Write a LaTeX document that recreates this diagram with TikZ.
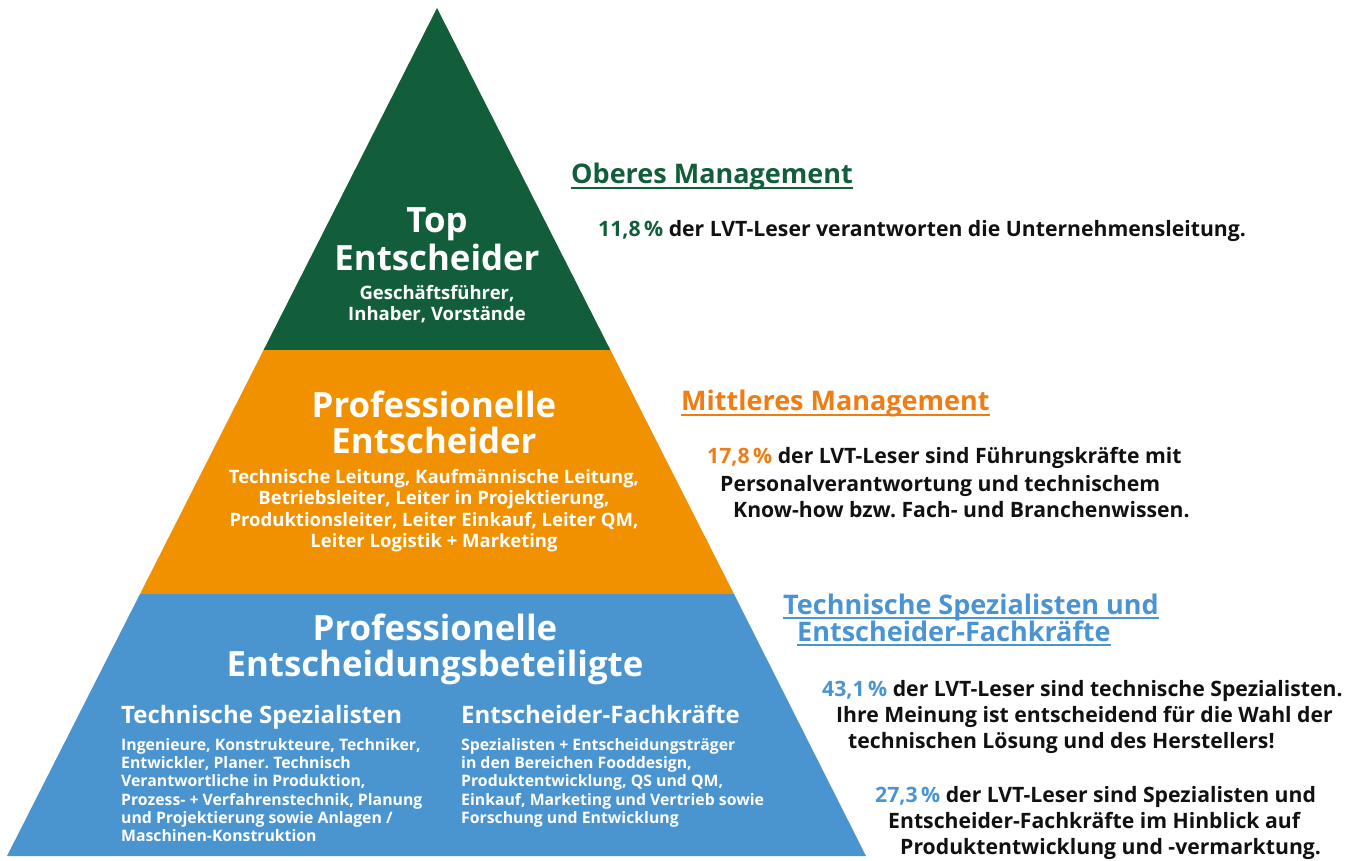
\documentclass[tikz,border=0pt]{standalone}
\usepackage{fontspec}
\setmainfont{Open Sans}
\frenchspacing
\definecolor{pgreen}{RGB}{19,94,58}
\definecolor{porange}{RGB}{242,145,0}
\definecolor{pblue}{RGB}{74,148,208}
\definecolor{torange}{RGB}{239,125,20}
\definecolor{tblue}{RGB}{74,148,212}
\definecolor{tblack}{RGB}{17,17,17}
\begin{document}
\begin{tikzpicture}[x=1pt,y=-1pt,
  every node/.style={inner sep=0pt,font=\bfseries},
  big/.style={anchor=base,text=white,font=\fontsize{34.8}{38}\selectfont\bfseries},
  small/.style={anchor=base,text=white,font=\fontsize{18.5}{21}\selectfont\bfseries},
  sub/.style={anchor=base west,text=white,font=\fontsize{24}{27}\selectfont\bfseries},
  tiny/.style={anchor=base west,text=white,font=\fontsize{15.8}{18}\selectfont\bfseries},
  head/.style={anchor=base west,font=\fontsize{27}{30}\selectfont\bfseries},
  body/.style={anchor=base west,text=tblack,font=\fontsize{21.2}{24}\selectfont\bfseries},
  uline/.style={line width=2pt}]
\useasboundingbox (0,0) rectangle (1348,861);
% pyramid
\coordinate (apex) at (437,8);
\coordinate (bl) at (7,856);
\coordinate (br) at (866,856);
\coordinate (g1) at (263.6,350);
\coordinate (g2) at (610.4,350);
\coordinate (o1) at (140,594);
\coordinate (o2) at (734,594);
\fill[pgreen] (apex) -- (g2) -- (g1) -- cycle;
\fill[porange] (g1) -- (g2) -- (o2) -- (o1) -- cycle;
\fill[pblue] (o1) -- (o2) -- (br) -- (bl) -- cycle;
% top band text
\node[big] (t1) at (437,232) {Top};
\node[big] (t2) at (437,270) {Entscheider};
\node[small] (t3) at (437,299) {Geschäftsführer,};
\node[small] (t4) at (437,320) {Inhaber, Vorstände};
% middle band
\node[big] (m1) at (434,417) {Professionelle};
\node[big] (m2) at (434,453) {Entscheider};
\node[small] (m3) at (434,483) {Technische Leitung, Kaufmännische Leitung,};
\node[small] (m4) at (434,504) {Betriebsleiter, Leiter in Projektierung,};
\node[small] (m5) at (434,526) {Produktionsleiter, Leiter Einkauf, Leiter QM,};
\node[small] (m6) at (434,547) {Leiter Logistik + Marketing};
% bottom band
\node[big] (b1) at (435,640) {Professionelle};
\node[big] (b2) at (435,676) {Entscheidungsbeteiligte};
\node[sub] (ts) at (121,723) {Technische Spezialisten};
\node[tiny] (ts1) at (121,750) {Ingenieure, Konstrukteure, Techniker,};
\node[tiny] (ts2) at (121,768) {Entwickler, Planer. Technisch};
\node[tiny] (ts3) at (121,786) {Verantwortliche in Produktion,};
\node[tiny] (ts4) at (121,805) {Prozess- + Verfahrenstechnik, Planung};
\node[tiny] (ts5) at (121,823) {und Projektierung sowie Anlagen /};
\node[tiny] (ts6) at (121,841) {Maschinen-Konstruktion};
\node[sub] (ef) at (461,723) {Entscheider-Fachkräfte};
\node[tiny] (ef1) at (461,750) {Spezialisten + Entscheidungsträger};
\node[tiny] (ef2) at (461,768) {in den Bereichen Fooddesign,};
\node[tiny] (ef3) at (461,786) {Produktentwicklung, QS und QM,};
\node[tiny] (ef4) at (461,805) {Einkauf, Marketing und Vertrieb sowie};
\node[tiny] (ef5) at (461,823) {Forschung und Entwicklung};
% right side
\node[head,text=pgreen] (h1) at (571,183) {Oberes Management};
\draw[uline,pgreen] ([yshift=-5]h1.base west) -- ([yshift=-5]h1.base east);
\node[body] (p1) at (598,236) {\textcolor{pgreen}{11,8\,\%} der LVT-Leser verantworten die Unternehmensleitung.};
\node[head,text=torange] (h2) at (681,410) {Mittleres Management};
\draw[uline,torange] ([yshift=-5]h2.base west) -- ([yshift=-5]h2.base east);
\node[body] (p2a) at (707,463) {\textcolor{torange}{17,8\,\%} der LVT-Leser sind Führungskräfte mit};
\node[body] (p2b) at (720,491) {Personalverantwortung und technischem};
\node[body] (p2c) at (733,517) {Know-how bzw. Fach- und Branchenwissen.};
\node[head,text=tblue] (h3a) at (783,614) {Technische Spezialisten und\ };
\draw[uline,tblue] ([yshift=-4]h3a.base west) -- ([yshift=-4]h3a.base east);
\node[head,text=tblue] (h3b) at (797,641) {Entscheider-Fachkräfte};
\draw[uline,tblue] ([yshift=-4]h3b.base west) -- ([yshift=-4]h3b.base east);
\node[body] (p3a) at (822,696) {\textcolor{tblue}{43,1\,\%} der LVT-Leser sind technische Spezialisten.};
\node[body] (p3b) at (836,722) {Ihre Meinung ist entscheidend für die Wahl der};
\node[body] (p3c) at (848,748) {technischen Lösung und des Herstellers!};
\node[body] (p4a) at (875,802) {\textcolor{tblue}{27,3\,\%} der LVT-Leser sind Spezialisten und};
\node[body] (p4b) at (888,828) {Entscheider-Fachkräfte im Hinblick auf};
\node[body] (p4c) at (900,854) {Produktentwicklung und -vermarktung.};
\end{tikzpicture}
\end{document}
